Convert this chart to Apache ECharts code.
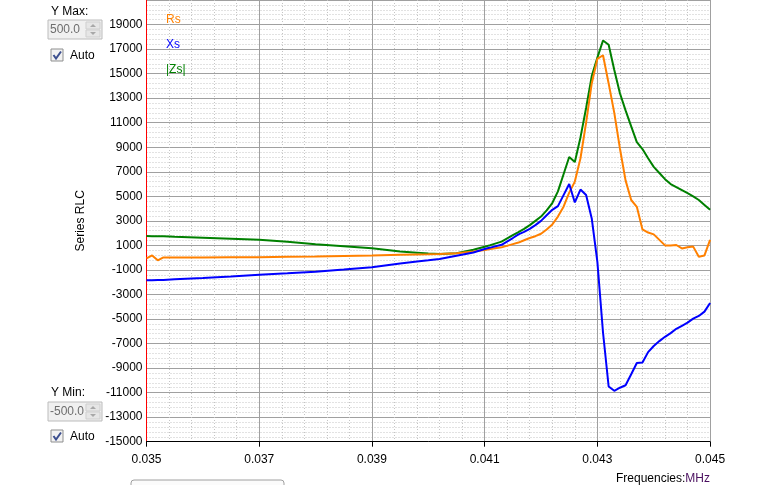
<!DOCTYPE html>
<html>
<head>
<meta charset="utf-8">
<script src="https://cdn.jsdelivr.net/npm/echarts@6/dist/echarts.min.js"></script>
<style>
html,body{margin:0;padding:0;background:#fff;}
#chart{width:776px;height:485px;}
</style>
</head>
<body>
<div id="chart"></div>
<script>
// Frequencies (MHz)
var freq = [0.035,0.0351,0.0352,0.0353,0.0355,0.036,0.0365,0.037,0.0375,0.038,0.0385,0.039,0.0395,0.0398,0.040,0.0402,0.0405,0.0408,0.041,0.0411,0.0413,0.0415,0.0416,0.0417,0.0418,0.0419,
  0.0420,0.0421,0.0422,0.0423,0.0424,0.0425,0.0426,0.0427,0.0428,0.0429,
  0.0430,0.0431,0.0432,0.0433,0.0434,0.0435,0.0436,0.0437,0.0438,0.0439,
  0.0440,0.0441,0.0442,0.0443,0.0444,0.0445,0.0446,0.0447,0.0448,0.0449,0.0450];
// Rs
var rsVals = [-60,180,-220,20,20,20,30,40,70,100,140,180,230,255,270,300,360,500,630,700,840,1100,1230,1420,1600,1750,
  1950,2300,2700,3350,4150,5300,6200,8100,11000,14200,
  16200,16500,14200,11800,8900,6300,4700,4140,2300,2050,
  1900,1450,1000,1000,1030,750,850,900,80,180,1450];
// Xs
var xsVals = [-1850,-1840,-1830,-1820,-1760,-1650,-1530,-1400,-1280,-1140,-970,-790,-480,-320,-220,-110,150,420,710,820,1050,1600,1900,2100,2350,2650,
  3000,3450,3900,4200,5100,6000,4500,5550,5100,3200,
  -350,-6100,-10500,-10850,-10600,-10400,-9500,-8580,-8540,-7700,
  -7200,-6800,-6450,-6150,-5800,-5550,-5300,-4970,-4750,-4400,-3700];
// |Zs|
var zsVals = [1760,1750,1745,1740,1700,1630,1540,1450,1290,1100,930,760,500,410,340,300,360,640,890,1020,1310,1830,2080,2350,2650,3000,
  3350,3850,4450,5400,6800,8200,7800,9800,12200,14800,
  16300,17700,17350,15300,13400,12000,10700,9420,8850,8100,
  7400,6900,6400,6000,5750,5500,5250,5000,4700,4300,3900];

var seriesNames = ['Rs','Xs','|Zs|'];
var seriesColors = ['#ff8000','#0000ff','#008000'];

function pairs(vals){ return freq.map(function(f,i){ return [f, vals[i]]; }); }

var FONT = '"Liberation Sans", Arial, sans-serif';
var chart = echarts.init(document.getElementById('chart'), null, {renderer:'canvas'});

function spinBox(y, txt){
  return [
    {type:'rect', shape:{x:48,y:y,width:54,height:19}, style:{fill:'#f0f0f0',stroke:'#bcbcbc',lineWidth:1}},
    {type:'text', style:{x:50,y:y+10,text:txt,fill:'#6d6d6d',font:'12px '+FONT,textVerticalAlign:'middle'}},
    {type:'rect', shape:{x:86,y:y+2,width:14,height:7}, style:{fill:'#e6e6e6',stroke:'#cfcfcf',lineWidth:1}},
    {type:'rect', shape:{x:86,y:y+10,width:14,height:7}, style:{fill:'#e6e6e6',stroke:'#cfcfcf',lineWidth:1}},
    {type:'polygon', shape:{points:[[90,y+7],[96,y+7],[93,y+4]]}, style:{fill:'#a8a8a8'}},
    {type:'polygon', shape:{points:[[90,y+12],[96,y+12],[93,y+15]]}, style:{fill:'#a8a8a8'}}
  ];
}
function checkBox(y){
  return [
    {type:'rect', shape:{x:51,y:y,width:12,height:12}, style:{fill:'#f2f2f2',stroke:'#8e8f8f',lineWidth:1}},
    {type:'polyline', shape:{points:[[53.5,y+6],[56,y+9.5],[61,y+2.5]]}, style:{stroke:'#3c4f8f',lineWidth:2,fill:null}},
    {type:'text', style:{x:70,y:y+6.5,text:'Auto',fill:'#000',font:'12px '+FONT,textVerticalAlign:'middle'}}
  ];
}

var graphics = [].concat(
  [{type:'text', style:{x:51,y:11.5,text:'Y Max:',fill:'#000',font:'12px '+FONT,textVerticalAlign:'middle'}}],
  spinBox(20,'500.0'),
  checkBox(49),
  [{type:'text', style:{x:51,y:393,text:'Y Min:',fill:'#000',font:'12px '+FONT,textVerticalAlign:'middle'}}],
  spinBox(402,'-500.0'),
  checkBox(430),
  [{type:'rect', shape:{x:131,y:480,width:153,height:14,r:3}, style:{fill:'#fbfbfb',stroke:'#a0a0a0',lineWidth:1}},
   {type:'text', style:{x:710,y:479,text:'{a|Frequencies:}{b|MHz}',textAlign:'right',textVerticalAlign:'middle',
     rich:{a:{fill:'#000',font:'12px '+FONT},b:{fill:'#4b1060',font:'12px '+FONT}}}}]
);

var option = {
  animation:false,
  backgroundColor:'#ffffff',
  textStyle:{fontFamily:FONT},
  grid:{left:146.5,right:65.9,top:-12.96,bottom:43.3,containLabel:false},
  legend:{
    orient:'vertical', left:156, top:8, itemGap:12, itemHeight:14, itemWidth:0, icon:'none',
    selectedMode:false,
    data:seriesNames.map(function(n,i){ return {name:n, textStyle:{color:seriesColors[i]}}; }),
    textStyle:{fontSize:12, fontFamily:FONT}
  },
  xAxis:{
    type:'value', min:0.035, max:0.045, interval:0.002,
    axisLine:{show:true,onZero:false,lineStyle:{color:'#000',width:1}},
    axisTick:{show:true,length:5,lineStyle:{color:'#000'}},
    axisLabel:{color:'#000',fontSize:12,margin:12,fontFamily:FONT,formatter:function(v){return v.toFixed(3);}},
    splitLine:{show:true,lineStyle:{color:'#a0a0a0',width:1}},
    minorTick:{show:false,splitNumber:5},
    minorSplitLine:{show:true,lineStyle:{color:'#c4c4c4',width:1,type:[1,2]}}
  },
  yAxis:{
    type:'value', min:-15000, max:21000, interval:2000,
    name:'Series RLC', nameLocation:'middle', nameGap:60, nameRotate:90,
    nameTextStyle:{color:'#000',fontSize:12,fontFamily:FONT},
    axisLine:{show:true,onZero:false,lineStyle:{color:'#ff0000',width:1}},
    axisTick:{show:false},
    axisLabel:{color:'#000',fontSize:12,margin:4,fontFamily:FONT,showMaxLabel:false,formatter:function(v){return String(Math.round(v));}},
    splitLine:{show:true,lineStyle:{color:'#a0a0a0',width:1}},
    minorTick:{show:false,splitNumber:5},
    minorSplitLine:{show:true,lineStyle:{color:'#c4c4c4',width:1,type:[1,2]}}
  },
  series:[
    {name:seriesNames[2],type:'line',data:pairs(zsVals),showSymbol:false,symbol:'none',lineStyle:{color:seriesColors[2],width:2},itemStyle:{color:seriesColors[2]},z:3},
    {name:seriesNames[0],type:'line',data:pairs(rsVals),showSymbol:false,symbol:'none',lineStyle:{color:seriesColors[0],width:2},itemStyle:{color:seriesColors[0]},z:4},
    {name:seriesNames[1],type:'line',data:pairs(xsVals),showSymbol:false,symbol:'none',lineStyle:{color:seriesColors[1],width:2},itemStyle:{color:seriesColors[1]},z:5}
  ],
  graphic:graphics
};
chart.setOption(option);
</script>
</body>
</html>
